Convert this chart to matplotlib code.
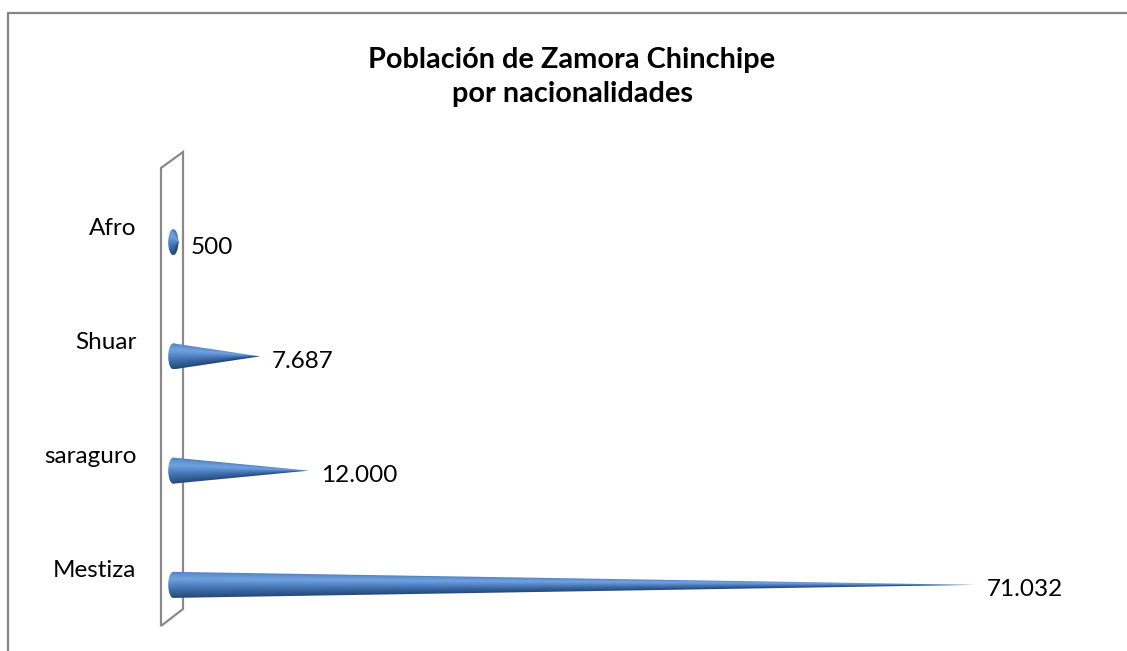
import numpy as np
import matplotlib
matplotlib.use("Agg")
import matplotlib.pyplot as plt
from matplotlib.patches import Polygon, Ellipse
from matplotlib.colors import LinearSegmentedColormap
from matplotlib.lines import Line2D
import matplotlib.transforms as mtransforms

categorias = ["Mestiza", "saraguro", "Shuar", "Afro"]
poblacion = [71032, 12000, 7687, 500]
titulo = "Población de Zamora Chinchipe\npor nacionalidades"

plt.rcParams['font.family'] = ['Lato', 'DejaVu Sans']

W, H = 1127, 651
fig = plt.figure(figsize=(W / 100, H / 100), dpi=100)
fig.patch.set_facecolor('white')

# plot area in pixels (left, top, right, bottom); x=0 sits at px 173
L, T, R, B = 162, 185, 1076, 642
ax = fig.add_axes([L / W, 1 - B / H, (R - L) / W, (B - T) / H])
ax.set_frame_on(False)
ax.set_xticks([])
pos = np.arange(len(categorias))
ax.set_yticks(pos, categorias)
ax.tick_params(axis='y', length=0, pad=18.5, labelsize=17.5)
for lbl in ax.get_yticklabels():
    lbl.set_transform(lbl.get_transform() +
                      mtransforms.ScaledTranslation(0, 0.16, fig.dpi_scale_trans))

# cone shading across the radius (bottom -> top)
cmap = LinearSegmentedColormap.from_list(
    'cono', [(0.0, '#24497a'), (0.3, '#3d6ca8'), (0.55, '#5b8cce'),
             (0.72, '#72a2e0'), (0.9, '#5d8fce'), (1.0, '#4a7bb8')])

h = 0.114          # half height of the cone base (category units)
ew = 900           # width of the base ellipse (data units)

for i, v in zip(pos, poblacion):
    xs = np.linspace(-ew / 2, v, 400)
    ys = np.linspace(i - h, i + h, 80)
    X, Y = np.meshgrid(xs, ys)
    r = h * (1 - np.clip(X, 0, None) / v)
    s = np.clip((Y - i) / np.maximum(r, 1e-9), -1, 1)
    img = cmap((s + 1) / 2)
    tri = Polygon([(0, i + h), (v, i), (0, i - h)], closed=True,
                  transform=ax.transData)
    ell = Ellipse((0, i), ew, 2 * h, transform=ax.transData)
    for clip in (tri, ell):
        im = ax.imshow(img, extent=(xs[0], xs[-1], ys[0], ys[-1]),
                       origin='lower', aspect='auto', interpolation='bilinear')
        im.set_clip_path(clip)
    etiqueta = f"{v:,}".replace(",", ".")
    ax.annotate(etiqueta, (v, i), xytext=(8.6, -3.6), textcoords='offset points',
                ha='left', va='center', fontsize=17.5, color='black')

ax.set_xlim(-1000, 80000)
ax.set_ylim(-0.5, len(categorias) - 0.5)

# 3D wall outline behind the cones
pared = [(161, 168), (183, 152), (183, 609), (161, 626)]
fig.add_artist(Polygon([(x / W, 1 - y / H) for x, y in pared], closed=True,
                       fill=False, edgecolor='#8a8a8a', lw=1.6, zorder=-1,
                       transform=fig.transFigure))

# chart border (cut off at the right and bottom)
fig.add_artist(Line2D([8 / W, 8 / W, 1.0], [0.0, 1 - 13 / H, 1 - 13 / H],
                      transform=fig.transFigure, color='#878787', lw=1.6))

fig.text(572 / W, 1 - 77 / H, titulo, ha='center', va='center',
         fontsize=20.8, fontweight='bold', linespacing=1.4)

fig.savefig("out.png", dpi=100)
